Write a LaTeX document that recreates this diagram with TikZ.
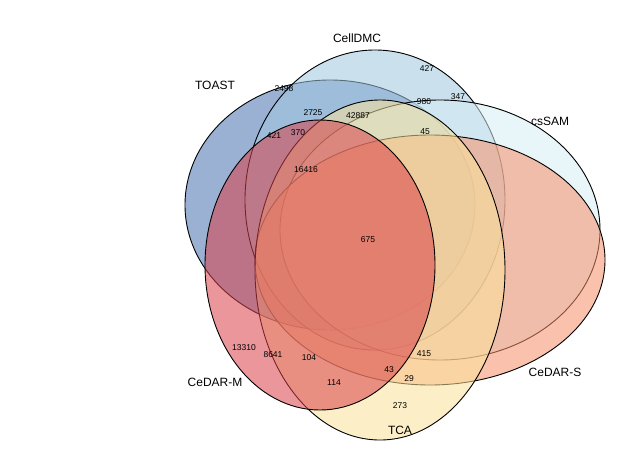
\documentclass[tikz,border=0pt]{standalone}
\usepackage{fontspec}
\setmainfont{Liberation Sans}
\usetikzlibrary{positioning}
\definecolor{cblue}{HTML}{4A72B0}
\definecolor{clblue}{HTML}{9FC8E0}
\definecolor{ccyan}{HTML}{D6EEF5}
\definecolor{csalm}{HTML}{F7906A}
\definecolor{cyell}{HTML}{FBE39A}
\definecolor{cred}{HTML}{D9414A}
\begin{document}
\begin{tikzpicture}[x=1pt,y=-1pt,
        setshape/.style={draw=black, line width=0.9pt, fill opacity=0.55},
        setlab/.style={font=\fontsize{12}{14}\selectfont},
        cnt/.style={font=\fontsize{8.5}{10}\selectfont, inner sep=1pt}]
  \useasboundingbox[fill=white] (0,0) rectangle (635,456);
  % sets
  \filldraw[setshape, fill=cblue]  (330,205) ellipse (145pt and 125pt);
  \filldraw[setshape, fill=clblue] (375,200) ellipse (130pt and 150pt);
  \filldraw[setshape, fill=ccyan]  (440,230) ellipse (160pt and 130pt);
  \filldraw[setshape, fill=csalm]  (430,260) ellipse (175pt and 125pt);
  \filldraw[setshape, fill=cyell]  (380,270) ellipse (125pt and 170pt);
  \filldraw[setshape, fill=cred]   (320,265) ellipse (115pt and 145pt);
  % set names
  \node[setlab] (toast)   at (215,85)  {TOAST};
  \node[setlab] (celldmc) at (357,38)  {CellDMC};
  \node[setlab] (cssam)   at (550,121) {csSAM};
  \node[setlab] (cedars)  at (555,372) {CeDAR-S};
  \node[setlab] (tca)     at (400,430) {TCA};
  \node[setlab] (cedarm)  at (215,382) {CeDAR-M};
  % counts
  \node[cnt] (n427)   at (427,69)  {427};
  \node[cnt] (n2498)  at (284,89)  {2498};
  \node[cnt] (n980)   at (424,102) {980};
  \node[cnt] (n347)   at (458,97)  {347};
  \node[cnt] (n2725)  at (313,113) {2725};
  \node[cnt] (n42887) at (358,116) {42887};
  \node[cnt] (n421)   at (274,136) {421};
  \node[cnt] (n370)   at (298,133) {370};
  \node[cnt] (n45)    at (425,132) {45};
  \node[cnt] (n16416) at (306,170) {16416};
  \node[cnt] (n675)   at (368,240) {675};
  \node[cnt] (n13310) at (244,348) {13310};
  \node[cnt] (n8641)  at (273,355) {8641};
  \node[cnt] (n104)   at (309,358) {104};
  \node[cnt] (n415)   at (424,354) {415};
  \node[cnt] (n43)    at (389,370) {43};
  \node[cnt] (n114)   at (334,383) {114};
  \node[cnt] (n29)    at (409,379) {29};
  \node[cnt] (n273)   at (400,406) {273};
\end{tikzpicture}
\end{document}
